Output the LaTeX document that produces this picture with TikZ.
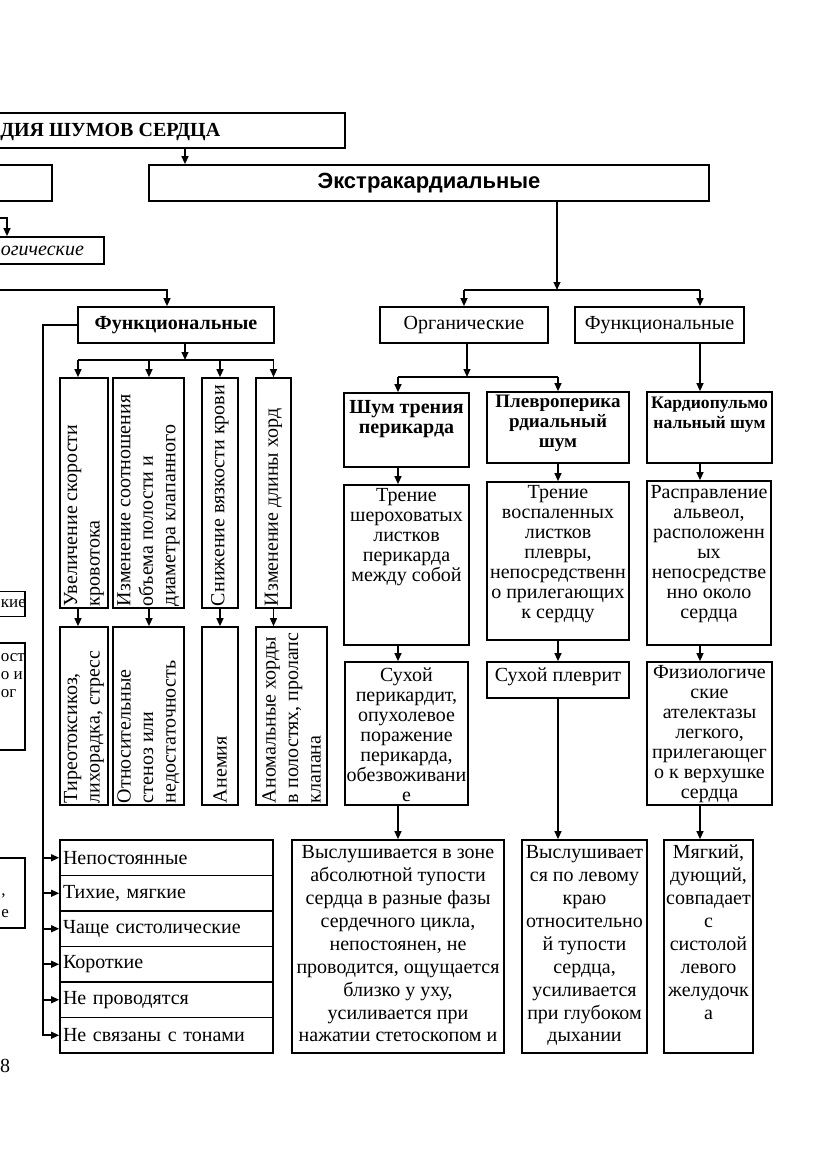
\documentclass[tikz,border=0pt]{standalone}
\usepackage{fontspec}
\setmainfont{Liberation Serif}
\newfontfamily\headsans{Liberation Sans}
\usetikzlibrary{arrows.meta}
\hyphenpenalty=10000
% text set from the top of a fixed box: width, height, leading, top gap, text
\newcommand{\cell}[5]{\parbox[c][#2][t]{#1}{\centering\fontsize{10pt}{#3}\selectfont\vspace*{#4}#5\par}}
% the same for the turned boxes: length, thickness, leading, text
\newcommand{\tcell}[4]{\parbox[c][#2][c]{#1}{\raggedright\fontsize{10pt}{#3}\selectfont #4\par}}

\begin{document}
\begin{tikzpicture}[x=0.5pt,y=-0.5pt,
    box/.style={draw,line width=0.8pt,inner sep=0pt},
    turned/.style={box,rotate=90,inner xsep=1pt},
    item/.style={box,minimum height=17.75pt,text width=103.5pt,inner xsep=1.5pt,align=left},
    cut/.style={inner sep=0pt,font=\fontsize{8.5pt}{9pt}\selectfont},
    arr/.style={line width=0.8pt,-{Triangle[length=4pt,width=3.4pt]}},
    ln/.style={line width=0.8pt}]
  \path[use as bounding box] (0,0) rectangle (831,1174);
  \clip (0,0) rectangle (831,1174);

  % header
  \node[box,minimum width=177.5pt,minimum height=17.5pt] (title) at (167.5,130.5) {};
  \node[anchor=west,inner sep=0pt,font=\bfseries] (titletxt) at (0,132) {ДИЯ ШУМОВ СЕРДЦА};
  \node[box,minimum width=31pt,minimum height=18pt] (intra) at (21,183) {};
  \node[box,minimum width=280pt,minimum height=18pt,font={\headsans\bfseries\fontsize{11pt}{13pt}\selectfont}] (extra) at (429,183) {Экстракардиальные};
  \coordinate (cT) at (185,0);
  \draw[arr] (title.south -| cT) -- (extra.north -| cT);

  % left branch, cut by the page edge
  \coordinate (ogin) at (-10,218);
  \coordinate (cO) at (7,218);
  \node[box,minimum width=57pt,minimum height=13.5pt] (ogic) at (47,250.5) {};
  \node[anchor=west,inner sep=0pt,font=\itshape] (ogictxt) at (0.5,251) {огические};
  \draw[arr] (ogin) -- (cO) -- (ogic.north -| cO);

  \coordinate (fin) at (-10,290);
  \coordinate (cF) at (167,290);
  \node[box,minimum width=98pt,minimum height=18pt,font=\bfseries] (funcL) at (176,325) {Функциональные};
  \draw[arr] (fin) -- (cF) -- (funcL.north -| cF);

  \node[turned] (r1) at (84,493) {\tcell{113pt}{24pt}{11.25pt}{Увеличение скорости\\кровотока}};
  \node[turned] (r2) at (148.5,493) {\tcell{113pt}{35.5pt}{11.25pt}{Изменение соотношения\\объема полости и\\диаметра клапанного}};
  \node[turned] (r3) at (220,493) {\tcell{113pt}{18pt}{11.25pt}{Снижение вязкости крови}};
  \node[turned] (r4) at (273.5,493) {\tcell{113pt}{17.5pt}{11.25pt}{Изменение длины хорд}};
  \node[turned] (b1) at (84,716) {\tcell{87pt}{24pt}{11.25pt}{Тиреотоксикоз,\\лихорадка, стресс}};
  \node[turned] (b2) at (148.5,716) {\tcell{87pt}{35.5pt}{11.25pt}{Относительные\\стеноз или\\недостаточность}};
  \node[turned] (b3) at (220,716) {\tcell{87pt}{18pt}{11.25pt}{Анемия}};
  \node[turned] (b4) at (291.5,716) {\tcell{87pt}{35.5pt}{11.25pt}{Аномальные хорды\\в полостях, пролапс\\клапана}};

  \coordinate (busL) at (185,360);
  \coordinate (c1) at (78,0);
  \coordinate (c2) at (149,0);
  \coordinate (c3) at (220,0);
  \coordinate (c4) at (273.5,0);
  \draw[arr] (funcL.south -| busL) -- (busL);
  \draw[ln] (busL -| c1) -- (busL -| c4);
  \draw[arr] (busL -| c1) -- (r1.east -| c1);
  \draw[arr] (busL -| c2) -- (r2.east -| c2);
  \draw[arr] (busL -| c3) -- (r3.east -| c3);
  \draw[arr] (busL -| c4) -- (r4.east -| c4);
  \draw[arr] (r1.west -| c1) -- (b1.east -| c1);
  \draw[arr] (r2.west -| c2) -- (b2.east -| c2);
  \draw[arr] (r3.west -| c3) -- (b3.east -| c3);
  \draw[arr] (r4.west -| c4) -- (b4.east -| c4);

  \node[item] (l1) at (166.5,857.75) {Непостоянные};
  \node[item] (l2) at (166.5,893.25) {Тихие, мягкие};
  \node[item] (l3) at (166.5,928.75) {Чаще систолические};
  \node[item] (l4) at (166.5,964.25) {Короткие};
  \node[item] (l5) at (166.5,999.75) {Не проводятся};
  \node[item] (l6) at (166.5,1035.25) {Не связаны с тонами};
  \coordinate (vl) at (43,325);
  \draw[arr] (funcL.west) -- (vl) |- (l6.west);
  \draw[arr] (vl |- l1.west) -- (l1.west);
  \draw[arr] (vl |- l2.west) -- (l2.west);
  \draw[arr] (vl |- l3.west) -- (l3.west);
  \draw[arr] (vl |- l4.west) -- (l4.west);
  \draw[arr] (vl |- l5.west) -- (l5.west);

  % boxes cut by the left edge
  \node[box,minimum width=17.5pt,minimum height=12.5pt] (kie) at (7.5,604) {};
  \node[cut,anchor=west] (kietxt) at (0.5,604) {кие};
  \node[box,minimum width=17.5pt,minimum height=53.5pt] (ost) at (7.5,696.5) {};
  \node[cut,anchor=north west,align=left] (osttxt) at (0.5,653) {ост\\о и\\ог};
  \node[box,minimum width=17.5pt,minimum height=35pt] (third) at (7.5,893) {};
  \node[cut,anchor=base west] (comma) at (1,895) {,};
  \node[cut,anchor=base west] (ee) at (1,917) {е};
  \node[inner sep=0pt] (pnum) at (5,1066) {8};

  % extracardiac branch
  \coordinate (busR) at (557,290);
  \coordinate (colA) at (398,0);
  \coordinate (colB) at (558,0);
  \coordinate (colC) at (700,0);
  \node[box,minimum width=84pt,minimum height=18pt] (orgR) at (464,325) {Органические};
  \node[box,minimum width=84.5pt,minimum height=18pt] (funcR) at (659.5,325) {Функциональные};
  \draw[arr] (extra.south -| busR) -- (busR);
  \draw[ln] (orgR.north |- busR) -- (busR -| colC);
  \draw[arr] (orgR.north |- busR) -- (orgR.north);
  \draw[arr] (busR -| colC) -- (funcR.north -| colC);

  \node[box] (trenie) at (406.5,430) {\cell{62.5pt}{37pt}{10pt}{3.5pt}{\bfseries Шум трения\\перикарда}};
  \node[box] (plevro) at (558,427.5) {\cell{71pt}{35.5pt}{10pt}{1.7pt}{\bfseries\fontsize{9.5pt}{10pt}\selectfont Плевроперика\\рдиальный\\шум}};
  \node[box] (kardio) at (709.5,427.5) {\cell{62.5pt}{35.5pt}{10pt}{2.7pt}{\bfseries\fontsize{8.8pt}{10pt}\selectfont Кардиопульмо\\нальный шум}};

  \coordinate (busO) at (467,377);
  \draw[arr] (orgR.south -| busO) -- (busO);
  \draw[ln] (busO -| colA) -- (busO -| colB);
  \draw[arr] (busO -| colA) -- (trenie.north -| colA);
  \draw[arr] (busO -| colB) -- (plevro.north -| colB);
  \draw[arr] (funcR.south -| colC) -- (kardio.north -| colC);

  \node[box] (trenieD) at (406.5,565) {\cell{62.5pt}{80pt}{10pt}{1.8pt}{Трение\\шероховатых\\листков\\перикарда\\между собой}};
  \node[box] (plevroD) at (558,561) {\cell{71pt}{79pt}{10pt}{1.8pt}{Трение\\воспаленных\\листков\\плевры,\\непосредственн\\о прилегающих\\к сердцу}};
  \node[box] (kardioD) at (709,563) {\cell{62pt}{82pt}{10pt}{2.2pt}{Расправление\\альвеол,\\расположенн\\ых\\непосредстве\\нно около\\сердца}};

  \node[box] (suhP) at (406.5,733.5) {\cell{61.5pt}{71.5pt}{10pt}{2.8pt}{Сухой\\перикардит,\\опухолевое\\поражение\\перикарда,\\обезвоживани\\е}};
  \node[box] (suhPl) at (558,680) {\cell{71pt}{18pt}{10pt}{2.8pt}{Сухой плеврит}};
  \node[box] (atel) at (709.5,733.5) {\cell{62.5pt}{71.5pt}{10pt}{1.8pt}{Физиологиче\\ские\\ателектазы\\легкого,\\прилегающег\\о к верхушке\\сердца}};

  \node[box] (ausc1) at (398,946.5) {\cell{106pt}{106.5pt}{11.45pt}{2.8pt}{Выслушивается в зоне\\абсолютной тупости\\сердца в разные фазы\\сердечного цикла,\\непостоянен, не\\проводится, ощущается\\близко у уху,\\усиливается при\\нажатии стетоскопом и}};
  \node[box] (ausc2) at (584.5,946.5) {\cell{62.5pt}{106.5pt}{11.45pt}{2.8pt}{Выслушивает\\ся по левому\\краю\\относительно\\й тупости\\сердца,\\усиливается\\при глубоком\\дыхании}};
  \node[box] (myag) at (708.5,946.5) {\cell{44.5pt}{106.5pt}{11.45pt}{2.5pt}{Мягкий,\\дующий,\\совпадает\\с\\систолой\\левого\\желудочк\\а}};

  \draw[arr] (trenie.south -| colA) -- (trenieD.north -| colA);
  \draw[arr] (plevro.south -| colB) -- (plevroD.north -| colB);
  \draw[arr] (kardio.south -| colC) -- (kardioD.north -| colC);
  \draw[arr] (trenieD.south -| colA) -- (suhP.north -| colA);
  \draw[arr] (plevroD.south -| colB) -- (suhPl.north -| colB);
  \draw[arr] (kardioD.south -| colC) -- (atel.north -| colC);
  \draw[arr] (suhP.south -| colA) -- (ausc1.north -| colA);
  \draw[arr] (suhPl.south -| colB) -- (ausc2.north -| colB);
  \draw[arr] (atel.south -| colC) -- (myag.north -| colC);
\end{tikzpicture}
\end{document}
